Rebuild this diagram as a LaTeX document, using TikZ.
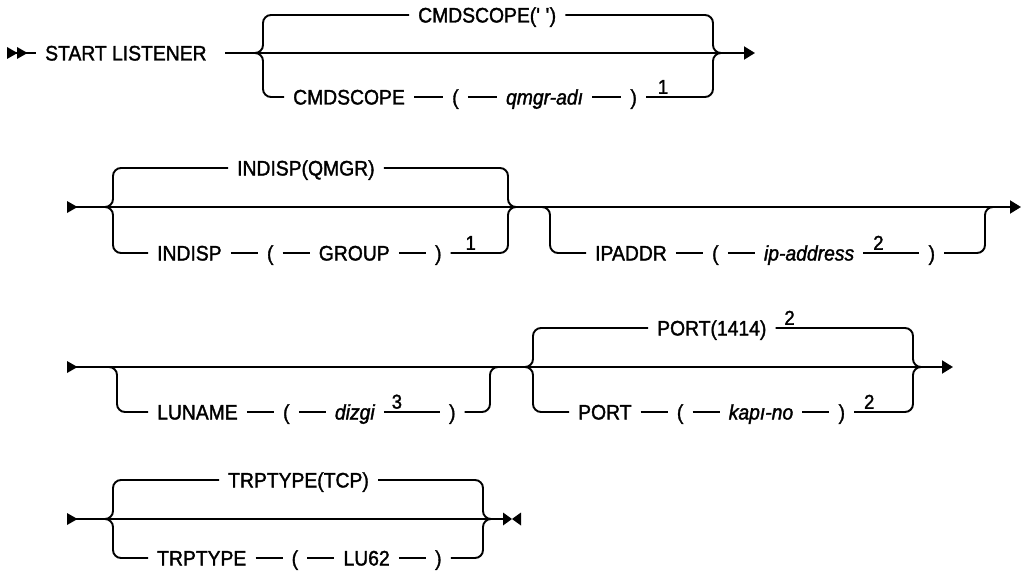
\documentclass[tikz,border=0pt]{standalone}
\usepackage{fontspec}
\setmainfont{Liberation Sans}
\newfontfamily\railfont{Liberation Sans}[FakeBold=1.6,FakeStretch=0.92]
\usetikzlibrary{arrows.meta,positioning}
\tikzset{
  tri/.pic={\fill (0,-6) -- (10.5,0) -- (0,6) -- cycle;},
  bowtie/.pic={\fill (0,-6.5) -- (9,0) -- (0,6.5) -- cycle;
                \fill (18,-6.5) -- (9,0) -- (18,6.5) -- cycle;},
}
\begin{document}
\begin{tikzpicture}[x=1pt,y=-1pt,
  rail/.style={line width=1.9pt, rounded corners=8pt},
  endarr/.style={-{Triangle[length=11pt,width=13pt]}},
  tok/.style={font=\railfont\fontsize{21}{24}\selectfont, inner xsep=9pt, inner ysep=0pt,
              text height=15pt, text depth=0pt, anchor=west},
  fn/.style={font=\railfont\fontsize{20}{22}\selectfont, inner sep=0pt, anchor=south},
  node distance=27pt,
]
\useasboundingbox (0,0) rectangle (1022,575);

% ---------------- Row 1 ----------------
\coordinate (r1s) at (7,53);
\coordinate (r1a) at (36,53);
\pic at (r1s) {tri};
\pic at (17,53) {tri};
\draw[rail] (r1s) -- (r1a);
\node[tok] (start) at (36,53) {START LISTENER};
\coordinate (m1a) at (225,53);
\coordinate (g1l) at (263,53);
\coordinate (g1r) at (713,53);
\coordinate (r1e) at (755,53);
\draw[rail,endarr] (m1a) -- (r1e);

\node[tok] (c1top) at (409,15) {CMDSCOPE(\textquotesingle\ \textquotesingle)};
\draw[rail] ([xshift=-8pt]g1l) -| (c1top.west -| g1l) -- (c1top.west);
\draw[rail] (c1top.east) -| (g1r) -- ([xshift=8pt]g1r);

\node[tok] (c1a) at (284,97) {CMDSCOPE};
\node[tok, right=29pt of c1a] (c1b) {(};
\node[tok, right=29pt of c1b] (c1c) {\itshape qmgr-adı};
\node[tok, right=29pt of c1c] (c1d) {)};
\node[fn] (f1) at ([xshift=17pt,yshift=3pt]c1d.east) {1};
\draw[rail] ([xshift=-8pt]g1l) -| (c1a.west -| g1l) -- (c1a.west);
\draw[rail] (c1a) -- (c1b);
\draw[rail] (c1b) -- (c1c);
\draw[rail] (c1c) -- (c1d);
\draw[rail] (c1d.east) -| (g1r) -- ([xshift=8pt]g1r);

% ---------------- Row 2 ----------------
\coordinate (r2s) at (67,207);
\coordinate (r2e) at (1021,207);
\pic at (r2s) {tri};
\draw[rail,endarr] (r2s) -- (r2e);
\coordinate (g2l) at (113,207);
\coordinate (g2r) at (508,207);

\node[tok] (i2top) at (228,168) {INDISP(QMGR)};
\draw[rail] ([xshift=-8pt]g2l) -| (i2top.west -| g2l) -- (i2top.west);
\draw[rail] (i2top.east) -| (g2r) -- ([xshift=8pt]g2r);

\node[tok] (i2a) at (148,253) {INDISP};
\node[tok, right=of i2a] (i2b) {(};
\node[tok, right=of i2b] (i2c) {GROUP};
\node[tok, right=of i2c] (i2d) {)};
\node[fn] (f2) at ([xshift=20pt,yshift=3pt]i2d.east) {1};
\draw[rail] ([xshift=-8pt]g2l) -| (i2a.west -| g2l) -- (i2a.west);
\draw[rail] (i2a) -- (i2b);
\draw[rail] (i2b) -- (i2c);
\draw[rail] (i2c) -- (i2d);
\draw[rail] (i2d.east) -| (g2r) -- ([xshift=8pt]g2r);

\coordinate (g3l) at (550,207);
\coordinate (g3r) at (985,207);
\node[tok] (p3a) at (586,253) {IPADDR};
\node[tok, right=of p3a] (p3b) {(};
\node[tok, right=of p3b] (p3c) {\itshape ip-address};
\node[tok, right=56pt of p3c] (p3d) {)};
\node[fn] (f3) at ([xshift=15pt,yshift=3pt]p3c.east) {2};
\draw[rail] ([xshift=-8pt]g3l) -| (p3a.west -| g3l) -- (p3a.west);
\draw[rail] (p3a) -- (p3b);
\draw[rail] (p3b) -- (p3c);
\draw[rail] (p3c) -- (p3d);
\draw[rail] (p3d.east) -| (g3r) -- ([xshift=8pt]g3r);

% ---------------- Row 3 ----------------
\coordinate (r3s) at (67,367);
\coordinate (r3e) at (953,367);
\pic at (r3s) {tri};
\draw[rail,endarr] (r3s) -- (r3e);

\coordinate (g4l) at (117,367);
\coordinate (g4r) at (490,367);
\node[tok] (l4a) at (148,412) {LUNAME};
\node[tok, right=of l4a] (l4b) {(};
\node[tok, right=of l4b] (l4c) {\itshape dizgi};
\node[tok, right=56pt of l4c] (l4d) {)};
\node[fn] (f4) at ([xshift=13pt,yshift=3pt]l4c.east) {3};
\draw[rail] ([xshift=-8pt]g4l) -| (l4a.west -| g4l) -- (l4a.west);
\draw[rail] (l4a) -- (l4b);
\draw[rail] (l4b) -- (l4c);
\draw[rail] (l4c) -- (l4d);
\draw[rail] (l4d.east) -| (g4r) -- ([xshift=8pt]g4r);

\coordinate (g5l) at (533,367);
\coordinate (g5r) at (913,367);
\node[tok] (o5top) at (648,328) {PORT(1414)};
\node[fn] (f5) at ([xshift=14pt,yshift=3pt]o5top.east) {2};
\draw[rail] ([xshift=-8pt]g5l) -| (o5top.west -| g5l) -- (o5top.west);
\draw[rail] (o5top.east) -| (g5r) -- ([xshift=8pt]g5r);

\node[tok] (o5a) at (569,412) {PORT};
\node[tok, right=of o5a] (o5b) {(};
\node[tok, right=of o5b] (o5c) {\itshape kapı-no};
\node[tok, right=of o5c] (o5d) {)};
\node[fn] (f6) at ([xshift=15pt,yshift=3pt]o5d.east) {2};
\draw[rail] ([xshift=-8pt]g5l) -| (o5a.west -| g5l) -- (o5a.west);
\draw[rail] (o5a) -- (o5b);
\draw[rail] (o5b) -- (o5c);
\draw[rail] (o5c) -- (o5d);
\draw[rail] (o5d.east) -| (g5r) -- ([xshift=8pt]g5r);

% ---------------- Row 4 ----------------
\coordinate (r4s) at (67,519);
\coordinate (r4e) at (503,519);
\pic at (r4s) {tri};
\draw[rail] (r4s) -- (r4e);
\pic at (r4e) {bowtie};
\coordinate (g6l) at (113,519);
\coordinate (g6r) at (483,519);

\node[tok] (t6top) at (219,480) {TRPTYPE(TCP)};
\draw[rail] ([xshift=-8pt]g6l) -| (t6top.west -| g6l) -- (t6top.west);
\draw[rail] (t6top.east) -| (g6r) -- ([xshift=8pt]g6r);

\node[tok] (t6a) at (148,558) {TRPTYPE};
\node[tok, right=of t6a] (t6b) {(};
\node[tok, right=of t6b] (t6c) {LU62};
\node[tok, right=of t6c] (t6d) {)};
\draw[rail] ([xshift=-8pt]g6l) -| (t6a.west -| g6l) -- (t6a.west);
\draw[rail] (t6a) -- (t6b);
\draw[rail] (t6b) -- (t6c);
\draw[rail] (t6c) -- (t6d);
\draw[rail] (t6d.east) -| (g6r) -- ([xshift=8pt]g6r);
\end{tikzpicture}
\end{document}
